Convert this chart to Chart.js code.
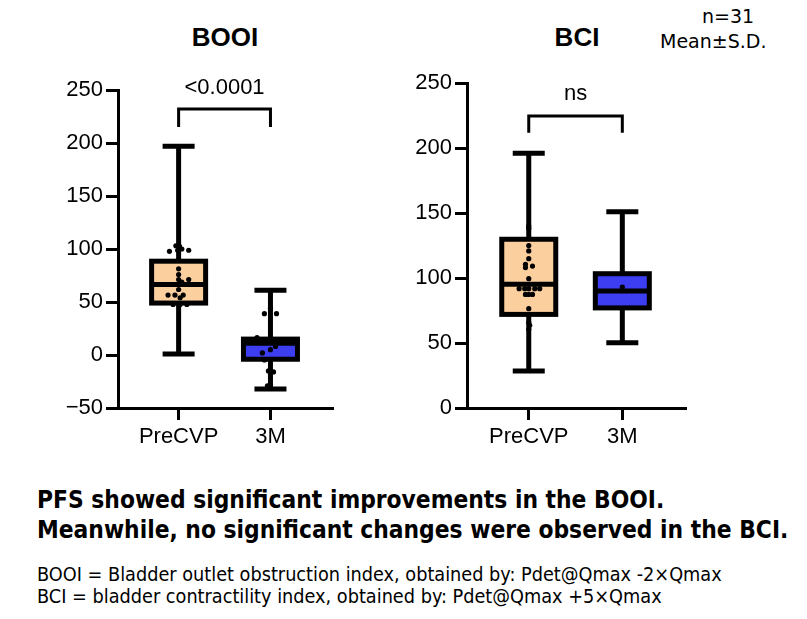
<!DOCTYPE html>
<html lang="en">
<head>
  <meta charset="UTF-8">
  <title>BOOI and BCI</title>
  <script src="https://cdn.jsdelivr.net/npm/chart.js"></script>
  <style>
    body { margin: 0; background: #fff; }
    #page { position: relative; width: 807px; height: 619px; overflow: hidden; font-family: 'Liberation Sans', Arial, sans-serif; color: #000; }
    .panel { position: absolute; top: 0; width: 360px; height: 460px; }
    .title { position: absolute; top: 22px; font-weight: bold; font-size: 26px; transform: translateX(-50%); white-space: nowrap; }
    .note { position: absolute; font-family: 'DejaVu Sans', sans-serif; font-size: 19px; white-space: nowrap; }
    .summary { position: absolute; left: 37px; top: 485px; font-family: 'DejaVu Sans Condensed', 'DejaVu Sans', sans-serif; font-weight: bold; font-size: 24.3px; line-height: 30px; white-space: nowrap; }
    .defs { position: absolute; left: 37px; top: 564px; font-family: 'DejaVu Sans Condensed', 'DejaVu Sans', sans-serif; font-size: 19.7px; line-height: 22px; white-space: nowrap; }
  </style>
</head>
<body>
<div id="page">
  <div class="title" style="left:225px">BOOI</div>
  <div class="title" style="left:577px">BCI</div>
  <div class="note" style="left:702px; top:5px">n=31</div>
  <div class="note" style="left:660px; top:30px">Mean±S.D.</div>
  <div class="panel" style="left:0px"><canvas id="booiChart"></canvas></div>
  <div class="panel" style="left:350px"><canvas id="bciChart"></canvas></div>
  <div class="summary">PFS showed significant improvements in the BOOI.<br>Meanwhile, no significant changes were observed in the BCI.</div>
  <div class="defs">BOOI = Bladder outlet obstruction index, obtained by: Pdet@Qmax -2×Qmax<br>BCI = bladder contractility index, obtained by: Pdet@Qmax +5×Qmax</div>
</div>

<script>
  const groups = ['PreCVP', '3M'];
  const boxColors = ['#fccf9f', '#3d3df2'];

  // BOOI summary per group
  const booiMin = [1, -32];
  const booiQ1 = [49, -4];
  const booiMedian = [66.5, 11];
  const booiQ3 = [88.5, 15];
  const booiMax = [197, 61];
  const booiTicks = [-50, 0, 50, 100, 150, 200, 250];
  const booiPVal = '<0.0001';

  // BOOI individual points (value, horizontal spread in group units)
  const booiPre = [97.8, 103, 102.4, 98.8, 100, 98.8, 81.3, 75.9, 71.2, 71.2, 68.7, 66.5, 66.5, 66.5, 66.5, 61.8, 56.5, 56.5, 56.5, 54, 47.7, 47.7, 47.7];
  const booiPreSpread = [-0.10, -0.03, 0.01, -0.01, 0.035, 0.11, 0, 0, 0, 0.11, 0.035, -0.19, -0.057, 0.145, 0, 0, -0.115, -0.04, 0.05, 0.016, -0.06, 0.09, 0.016];
  const booi3m = [44, 39, 39, 16.4, 12, 8, 5, 2, -4.7, -15, -16, -27.6, -29, -31];
  const booi3mSpread = [0, -0.066, 0.066, -0.146, -0.055, 0.055, 0, -0.088, -0.066, -0.022, 0.033, 0, -0.033, 0];

  // BCI summary per group
  const bciMin = [28.5, 50.2];
  const bciQ1 = [72, 77];
  const bciMedian = [95.1, 90];
  const bciQ3 = [129.8, 103.3];
  const bciMax = [196, 151];
  const bciTicks = [0, 50, 100, 150, 200, 250];
  const bciPVal = 'ns';

  const bciPre = [140, 138, 125, 120.8, 114.9, 110.5, 108, 109.2, 99.5, 91.8, 91.8, 91.8, 91.8, 91.8, 87.4, 87.4, 87.4, 76.4, 65.6, 63.6, 60.5];
  const bciPreSpread = [0, 0, 0, 0, 0, -0.035, -0.035, 0.04, 0, -0.103, -0.043, 0, 0.064, 0.117, -0.035, 0, 0.04, 0, 0, 0.01, 0];
  const bci3m = [93];
  const bci3mSpread = [0];

  Chart.defaults.font.family = "'Liberation Sans', Arial, sans-serif";
  Chart.defaults.color = '#000';

  const LW = 5;

  // draws boxes, whiskers and the significance bracket from the scales
  const boxPlugin = {
    id: 'boxPlot',
    beforeDatasetsDraw(chart, args, opts) {
      const { ctx, scales: { x, y } } = chart;
      ctx.save();
      ctx.strokeStyle = '#000';
      ctx.lineWidth = LW;
      ctx.lineCap = 'butt';
      groups.forEach((g, i) => {
        const cx = x.getPixelForValue(i + 1);
        const yMin = y.getPixelForValue(opts.min[i]);
        const yMax = y.getPixelForValue(opts.max[i]);
        const yQ1 = y.getPixelForValue(opts.q1[i]);
        const yQ3 = y.getPixelForValue(opts.q3[i]);
        const yMed = y.getPixelForValue(opts.median[i]);
        // whisker
        ctx.beginPath();
        ctx.moveTo(cx, yMax); ctx.lineTo(cx, yMin);
        ctx.moveTo(cx - 16, yMax); ctx.lineTo(cx + 16, yMax);
        ctx.moveTo(cx - 16, yMin); ctx.lineTo(cx + 16, yMin);
        ctx.stroke();
        // box
        ctx.fillStyle = boxColors[i];
        ctx.fillRect(cx - 27, yQ3, 54, yQ1 - yQ3);
        ctx.strokeRect(cx - 27, yQ3, 54, yQ1 - yQ3);
        ctx.beginPath();
        ctx.moveTo(cx - 27, yMed); ctx.lineTo(cx + 27, yMed);
        ctx.stroke();
      });
      // bracket
      const x1 = x.getPixelForValue(1), x2 = x.getPixelForValue(2);
      const yTop = y.getPixelForValue(opts.bracket[0]);
      const yLeg = y.getPixelForValue(opts.bracket[1]);
      ctx.lineWidth = 3;
      ctx.beginPath();
      ctx.moveTo(x1, yLeg); ctx.lineTo(x1, yTop); ctx.lineTo(x2, yTop); ctx.lineTo(x2, yLeg);
      ctx.stroke();
      ctx.font = "22px 'Liberation Sans', Arial, sans-serif";
      ctx.fillStyle = '#000';
      ctx.textAlign = 'center';
      ctx.textBaseline = 'middle';
      ctx.fillText(opts.label, (x1 + x2) / 2, y.getPixelForValue(opts.bracket[2]));
      ctx.restore();
    }
  };

  function makeChart(id, cfg) {
    const pts = (vals, spread, g) => vals.map((v, k) => ({ x: g + spread[k], y: v }));
    new Chart(document.getElementById(id), {
      type: 'scatter',
      data: {
        datasets: [
          { data: pts(cfg.pre, cfg.preSpread, 1), backgroundColor: '#000', borderWidth: 0, pointRadius: 2.6 },
          { data: pts(cfg.post, cfg.postSpread, 2), backgroundColor: '#000', borderWidth: 0, pointRadius: 2.6 }
        ]
      },
      plugins: [boxPlugin],
      options: {
        responsive: false,
        animation: false,
        events: [],
        layout: { padding: { top: cfg.top, right: cfg.right, left: 0, bottom: 0 } },
        plugins: {
          legend: { display: false },
          tooltip: { enabled: false },
          boxPlot: cfg.box
        },
        scales: {
          x: {
            type: 'linear',
            min: 0.34,
            max: 2.67,
            afterBuildTicks: s => { s.ticks = [{ value: 1 }, { value: 2 }]; },
            afterFit: s => { s.height = 52; },
            ticks: { callback: v => groups[v - 1], font: { size: 22 }, padding: 4 },
            grid: { drawOnChartArea: false, tickLength: 12, lineWidth: 3, color: '#000' },
            border: { width: 3, color: '#000' }
          },
          y: {
            min: cfg.ticks[0],
            max: cfg.ticks[cfg.ticks.length - 1],
            afterBuildTicks: s => { s.ticks = cfg.ticks.map(v => ({ value: v })); },
            afterFit: s => { s.width = cfg.axisX; },
            ticks: { callback: v => String(v).replace('-', '\u2212'), font: { size: 22 }, padding: 3 },
            grid: { drawOnChartArea: false, tickLength: 12, lineWidth: 3, color: '#000' },
            border: { width: 3, color: '#000' }
          }
        }
      }
    });
  }

  const canvasSize = id => { const c = document.getElementById(id); c.width = 360; c.height = 460; };
  canvasSize('booiChart');
  canvasSize('bciChart');

  makeChart('booiChart', {
    pre: booiPre, preSpread: booiPreSpread, post: booi3m, postSpread: booi3mSpread,
    ticks: booiTicks, top: 90, right: 28, axisX: 118,
    box: { min: booiMin, q1: booiQ1, median: booiMedian, q3: booiQ3, max: booiMax, bracket: [232, 215, 252], label: booiPVal }
  });

  makeChart('bciChart', {
    pre: bciPre, preSpread: bciPreSpread, post: bci3m, postSpread: bci3mSpread,
    ticks: bciTicks, top: 83, right: 25, axisX: 117,
    box: { min: bciMin, q1: bciQ1, median: bciMedian, q3: bciQ3, max: bciMax, bracket: [224.6, 211.8, 241.5], label: bciPVal }
  });
</script>
</body>
</html>
